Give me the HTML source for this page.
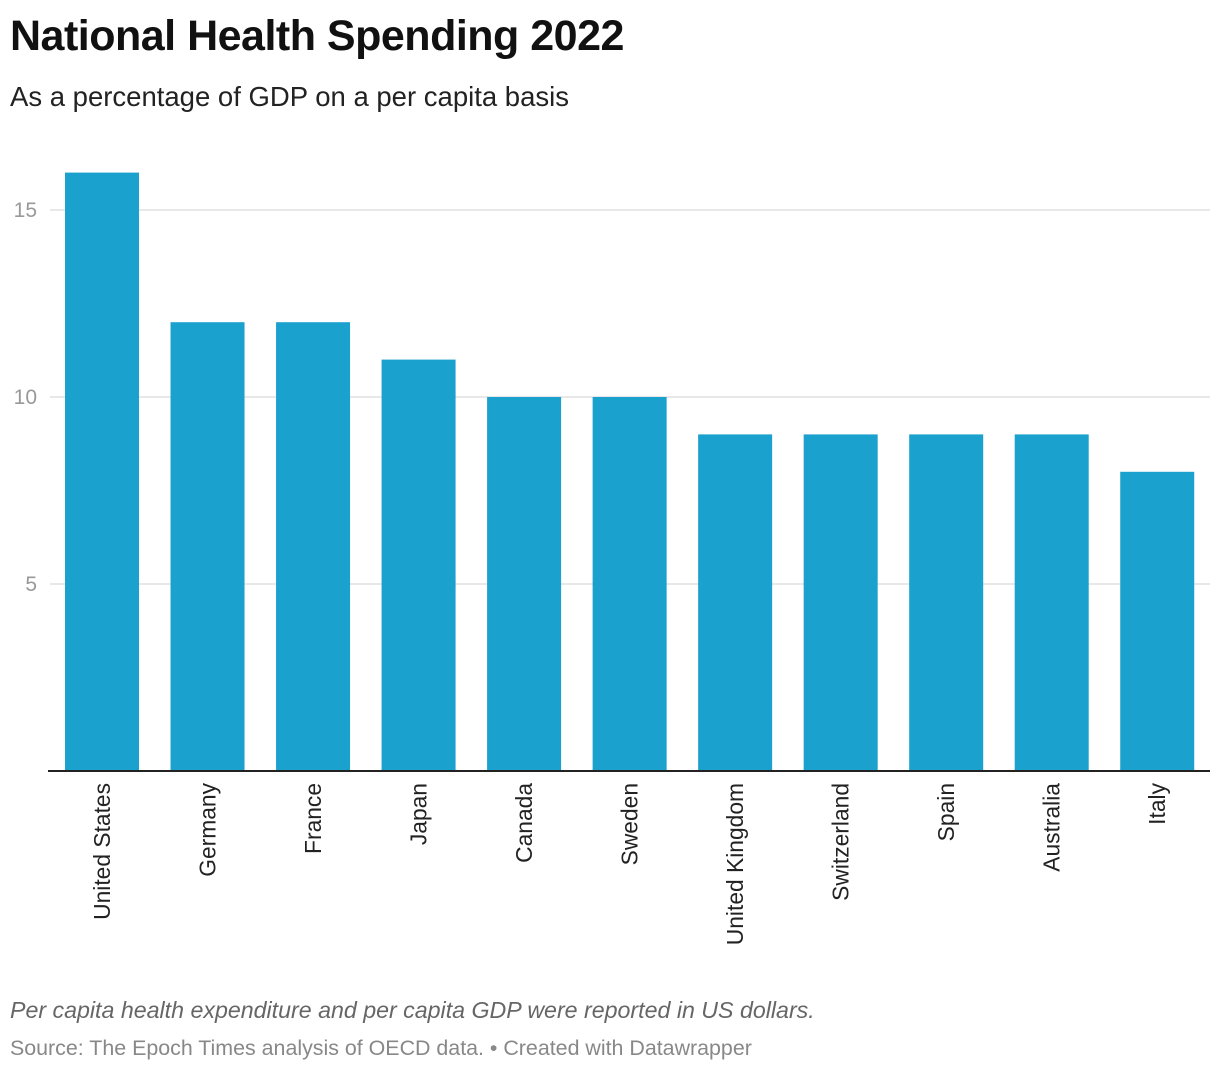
<!DOCTYPE html>
<html><head><meta charset="utf-8"><style>
body{margin:0;background:#fff;font-family:"Liberation Sans",sans-serif;}
#wrap{position:relative;width:1220px;height:1074px;overflow:hidden}
.t{position:absolute;left:10px;white-space:nowrap}
</style></head><body><div id="wrap">
<div class="t" style="top:12px;font-size:43px;font-weight:bold;color:#111;letter-spacing:-0.5px">National Health Spending 2022</div>
<div class="t" style="top:81px;font-size:27.5px;color:#222">As a percentage of GDP on a per capita basis</div>
<svg id="chart" width="1220" height="1074" style="position:absolute;left:0;top:0"></svg>
<div class="t" style="top:997px;font-size:23.2px;font-style:italic;color:#666">Per capita health expenditure and per capita GDP were reported in US dollars.</div>
<div class="t" style="top:1036px;font-size:21.4px;color:#888">Source: The Epoch Times analysis of OECD data. • Created with Datawrapper</div>
</div>
<script>
const categories=["United States","Germany","France","Japan","Canada","Sweden","United Kingdom","Switzerland","Spain","Australia","Italy"];
const values=[16,12,12,11,10,10,9,9,9,9,8];
const yTicks=[5,10,15];
const NS="http://www.w3.org/2000/svg";
const svg=document.getElementById('chart');
const x0=49.25,x1=1210,y0=771,pxPerUnit=37.4;
const band=(x1-x0)/categories.length,bw=74;
const y=v=>y0-v*pxPerUnit;
const xc=i=>x0+band*i+band/2;
function mk(tag,attrs){const e=document.createElementNS(NS,tag);for(const k in attrs)e.setAttribute(k,attrs[k]);svg.appendChild(e);return e;}
yTicks.forEach(t=>{
 const g=mk('line',{x1:50,x2:1210,y1:y(t),y2:y(t),stroke:'#e0e0e0','stroke-width':1.5});
 
 
 const l=mk('text',{x:37,y:y(t)+7,'text-anchor':'end','font-size':21,fill:'#999','font-family':'Liberation Sans, sans-serif'});
 l.textContent=t;
 
 
});
categories.forEach((c,i)=>{
 const r=mk('rect',{x:xc(i)-bw/2,y:y(values[i]),width:bw,height:y0-y(values[i]),fill:'#1aa1cd'});
 
 
 const t=mk('text',{transform:`translate(${xc(i)+8},783) rotate(-90)`,'text-anchor':'end','font-size':22.8,fill:'#222','font-family':'Liberation Sans, sans-serif'});
 t.textContent=c;
 
 
});
const b=mk('line',{x1:48,x2:1210,y1:y0,y2:y0,stroke:'#222','stroke-width':2});


</script></body></html>
